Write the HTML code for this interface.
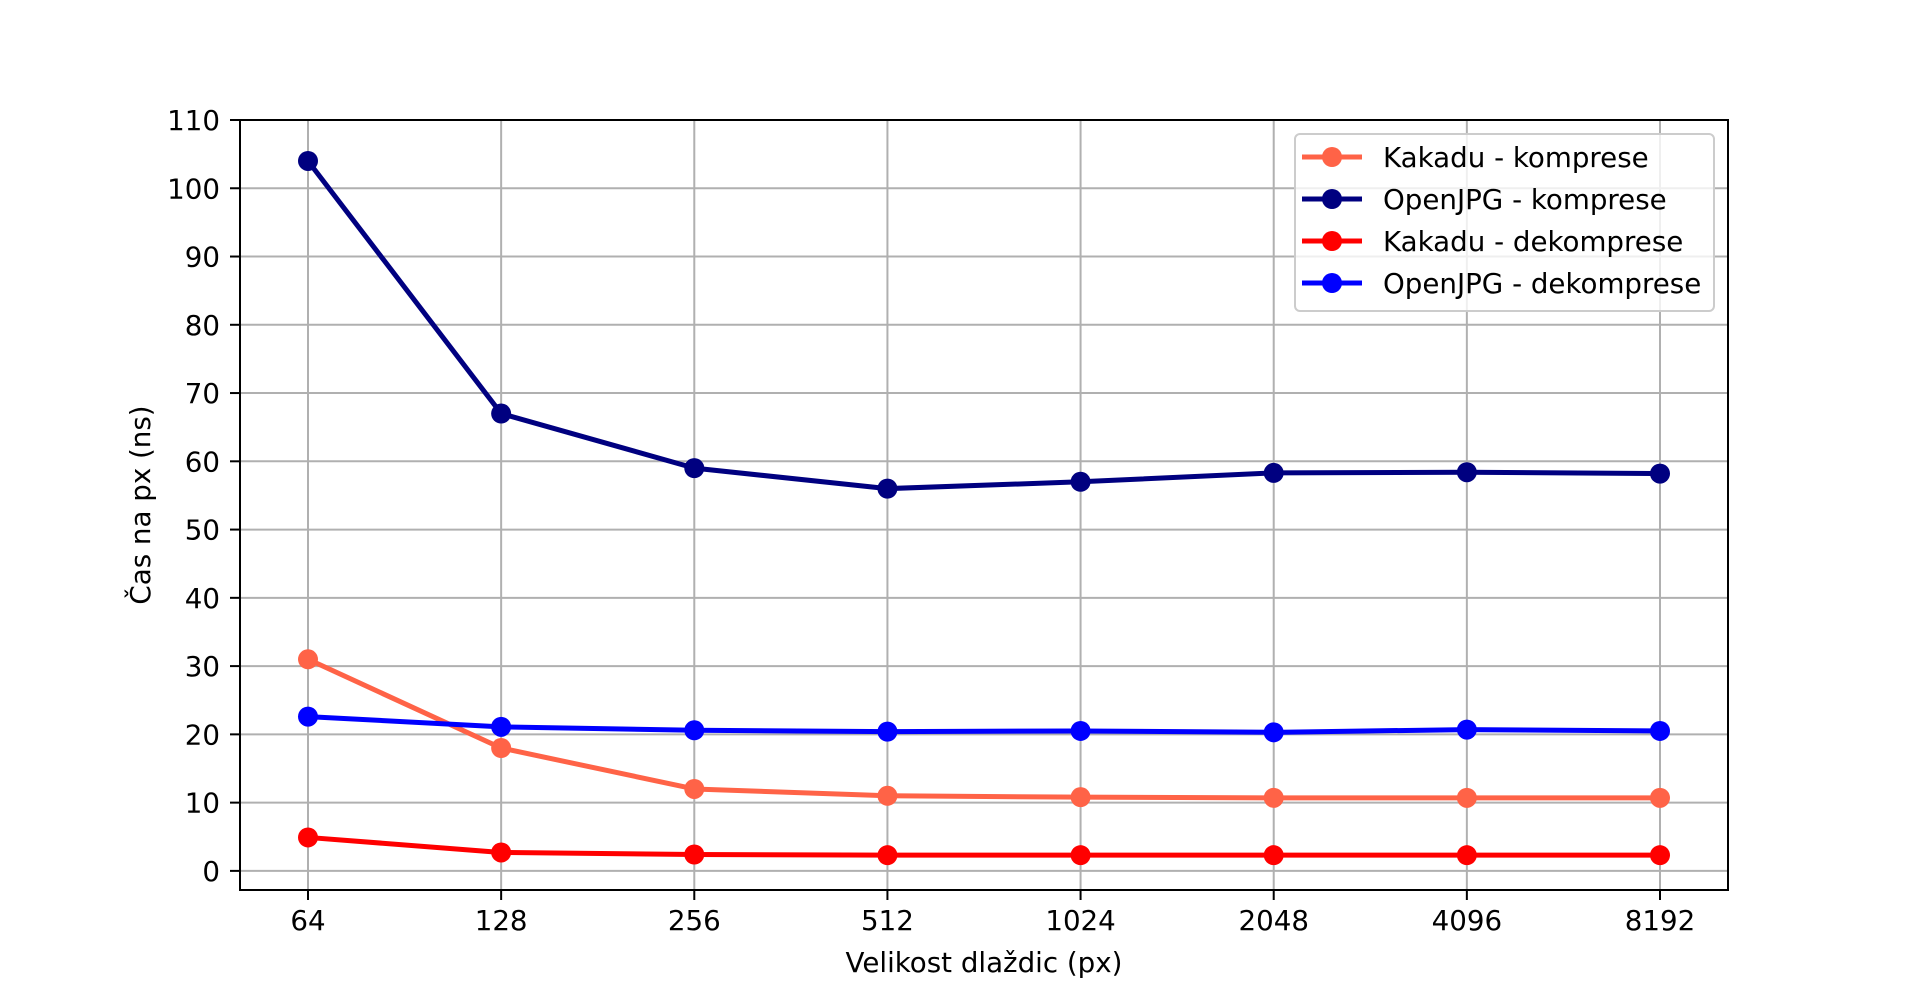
<!DOCTYPE html>
<html><head><meta charset="utf-8"><style>
body{margin:0;background:#fff;}
svg{display:block;font-family:"DejaVu Sans","Liberation Sans",sans-serif;}
</style></head><body>
<svg id="chart" width="1920" height="1000" viewBox="0 0 1920 1000">
<rect width="1920" height="1000" fill="#fff"/>
<g id="grid"></g>
<g id="series"></g>
<rect x="240" y="120" width="1488" height="770" fill="none" stroke="#000" stroke-width="2"/>
<g id="ticks"></g>
<text x="984" y="972" font-size="27.7" text-anchor="middle">Velikost dlaždic (px)</text>
<text transform="translate(150,505) rotate(-90)" font-size="27.7" text-anchor="middle">Čas na px (ns)</text>
<g id="legend"></g>
</svg>
<script>
const categories = ["64","128","256","512","1024","2048","4096","8192"];
const kakaduKomp = [31, 18, 12, 11, 10.8, 10.7, 10.7, 10.7];
const openjpgKomp = [104, 67, 59, 56, 57, 58.3, 58.4, 58.2];
const kakaduDekomp = [4.9, 2.7, 2.4, 2.3, 2.3, 2.3, 2.3, 2.3];
const openjpgDekomp = [22.6, 21.1, 20.6, 20.4, 20.5, 20.3, 20.7, 20.5];
const yTicks = [0,10,20,30,40,50,60,70,80,90,100,110];
const seriesNames = ["Kakadu - komprese","OpenJPG - komprese","Kakadu - dekomprese","OpenJPG - dekomprese"];

const NS="http://www.w3.org/2000/svg";
const X0=308, X1=1660, Y0=120, Y1=890, YMIN=-2.8, YMAX=110;
function xs(i){return X0+(X1-X0)*i/(categories.length-1);}
function ys(v){return Y1-(v-YMIN)/(YMAX-YMIN)*(Y1-Y0);}
function mk(tag,attrs,parent){const e=document.createElementNS(NS,tag);for(const k in attrs)e.setAttribute(k,attrs[k]);parent.appendChild(e);return e;}
const grid=document.getElementById('grid'), ticks=document.getElementById('ticks'), ser=document.getElementById('series'), leg=document.getElementById('legend');

categories.forEach((c,i)=>{
  const x=xs(i);
  const g=mk('line',{x1:x,x2:x,y1:Y0,y2:Y1,stroke:'#b0b0b0','stroke-width':2},grid);
  
  
  const t=mk('line',{x1:x,x2:x,y1:Y1,y2:Y1+10,stroke:'#000','stroke-width':2},ticks);
  
  
  const l=mk('text',{x:x,y:930,'font-size':27.7,'text-anchor':'middle'},ticks);
  l.textContent=c;
  
  
});
yTicks.forEach(v=>{
  const y=ys(v);
  const g=mk('line',{x1:240,x2:1728,y1:y,y2:y,stroke:'#b0b0b0','stroke-width':2},grid);
  
  
  const t=mk('line',{x1:230,x2:240,y1:y,y2:y,stroke:'#000','stroke-width':2},ticks);
  
  
  const l=mk('text',{x:220,y:y+10,'font-size':27.7,'text-anchor':'end'},ticks);
  l.textContent=v;
  
  
});

const allSeries=[kakaduKomp,openjpgKomp,kakaduDekomp,openjpgDekomp];
const colors=["#ff6347","#000080","#ff0000","#0000ff"];
allSeries.forEach((vals,s)=>{
  const g=mk('g',{},ser);
  
  
  const p=mk('polyline',{points:vals.map((v,i)=>xs(i)+','+ys(v)).join(' '),fill:'none',stroke:colors[s],'stroke-width':5,'stroke-linejoin':'round'},g);
  
  
  vals.forEach((v,i)=>{
    const c=mk('circle',{cx:xs(i),cy:ys(v),r:10,fill:colors[s]},g);
    
    
  });
});

const box=mk('rect',{x:1295,y:134,width:419,height:177,rx:5,fill:'rgba(255,255,255,0.8)',stroke:'#cccccc','stroke-width':2},leg);


seriesNames.forEach((n,s)=>{
  const y=157+42*s;
  const g=mk('g',{},leg);
  
  
  mk('line',{x1:1302,x2:1362,y1:y,y2:y,stroke:colors[s],'stroke-width':5},g);
  mk('circle',{cx:1332,cy:y,r:10,fill:colors[s]},g);
  const t=mk('text',{x:1383,y:y+10,'font-size':27.7},g);
  t.textContent=n;
});
</script>
</body></html>
